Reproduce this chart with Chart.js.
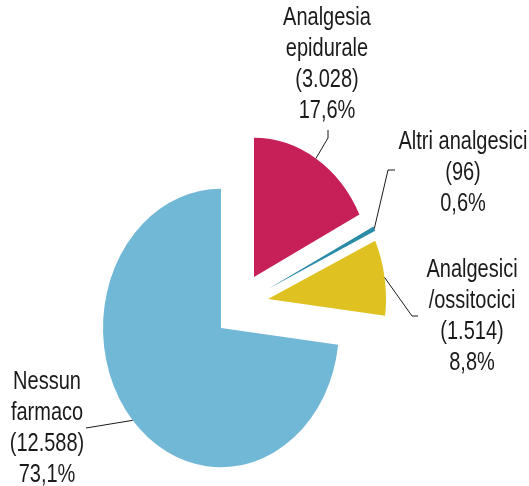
<!DOCTYPE html>
<html><head><meta charset="utf-8">
<script src="https://cdn.jsdelivr.net/npm/chart.js@4/dist/chart.umd.min.js"></script>
<style>html,body{margin:0;padding:0;background:#fff}canvas{display:block}</style>
</head><body>
<canvas id="c" width="529" height="486"></canvas>
<script>
// ---- data ----
const categories = ["Analgesia epidurale", "Altri analgesici", "Analgesici /ossitocici", "Nessun farmaco"];
const labelLines = [["Analgesia", "epidurale"], ["Altri analgesici"], ["Analgesici", "/ossitocici"], ["Nessun", "farmaco"]];
const values = [3028, 96, 1514, 12588];

// ---- styles / layout ----
const colors = ["#C71F57", "#2B8CA8", "#DFC222", "#71B7D6"];
const Y_SCALE = 1.18;
const explode = [[33, -51], [47, -39], [47, -29], [0, 0]];
const labelPos = [[327, 25], [463, 149], [472, 277], [47, 389]];
const leaderPts = [[[328, 138], [328, 130]], [[388, 170], [395, 170]], [[412, 316], [418, 316]], [[86, 428]]];
const LINE_H = 31;

const total = values.reduce((a, b) => a + b, 0);
function fmtInt(n) { return String(n).replace(/\B(?=(\d{3})+(?!\d))/g, '.'); }
function fmtPct(v) { return (v / total * 100).toFixed(1).replace('.', ',') + '%'; }

const ellipsePie = {
  id: 'ellipsePie',
  beforeDatasetDraw(chart, args) {
    const ctx = chart.ctx;
    args.meta.data.forEach((arc, i) => {
      ctx.save();
      ctx.translate(explode[i][0], explode[i][1]);
      ctx.translate(arc.x, arc.y);
      ctx.scale(1, Y_SCALE);
      ctx.translate(-arc.x, -arc.y);
      arc.draw(ctx, chart.chartArea);
      ctx.restore();
    });
    return false;
  },
  afterDraw(chart) {
    const ctx = chart.ctx;
    const arcs = chart.getDatasetMeta(0).data;
    ctx.save();
    ctx.strokeStyle = '#1a1a1a';
    ctx.lineWidth = 1;
    arcs.forEach((arc, i) => {
      const a = (arc.startAngle + arc.endAngle) / 2;
      const r = arc.outerRadius;
      const px = arc.x + Math.cos(a) * r + explode[i][0];
      const py = arc.y + Math.sin(a) * r * Y_SCALE + explode[i][1];
      ctx.beginPath();
      ctx.moveTo(px, py);
      leaderPts[i].forEach(p => ctx.lineTo(p[0], p[1]));
      ctx.stroke();
    });
    ctx.fillStyle = '#1a1a1a';
    ctx.font = "25px 'Liberation Sans', Arial, sans-serif";
    ctx.textAlign = 'center';
    ctx.textBaseline = 'alphabetic';
    labelLines.forEach((lines, i) => {
      const all = lines.concat(['(' + fmtInt(values[i]) + ')', fmtPct(values[i])]);
      all.forEach((t, j) => {
        ctx.save();
        ctx.translate(labelPos[i][0], labelPos[i][1] + j * LINE_H);
        ctx.scale(0.8, 1);
        ctx.fillText(t, 0, 0);
        ctx.restore();
      });
    });
    ctx.restore();
  }
};

new Chart(document.getElementById('c'), {
  type: 'pie',
  data: {
    labels: categories,
    datasets: [{
      data: values,
      backgroundColor: colors,
      borderWidth: 0,
      offset: 0
    }]
  },
  options: {
    responsive: false,
    animation: false,
    events: [],
    radius: 118,
    rotation: 0,
    layout: { padding: { left: 0, right: 87, top: 170, bottom: 0 } },
    plugins: { legend: { display: false }, tooltip: { enabled: false } }
  },
  plugins: [ellipsePie]
});
</script>
</body></html>
